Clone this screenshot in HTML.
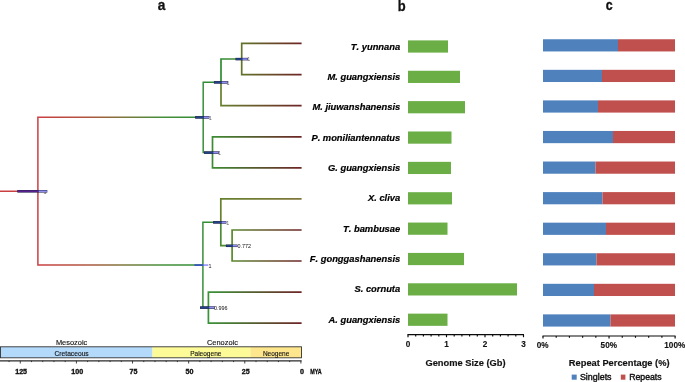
<!DOCTYPE html>
<html><head><meta charset="utf-8"><title>figure</title>
<style>
html,body{margin:0;padding:0;background:#fff;}
body{width:685px;height:382px;overflow:hidden;font-family:"Liberation Sans",sans-serif;}
svg{display:block;will-change:transform;}
text{font-family:"Liberation Sans",sans-serif;}
.sp{font-kerning:none;font-size:9.35px;font-weight:bold;font-style:italic;fill:#000;stroke:#000;stroke-width:0.2px;}
.hd{font-size:14.5px;font-weight:bold;fill:#111;stroke:#111;stroke-width:0.3px;}
.ax{font-size:8.2px;font-weight:bold;fill:#111;stroke:#111;stroke-width:0.12px;}
.axt{font-size:9.3px;font-weight:bold;fill:#111;stroke:#111;stroke-width:0.15px;}
.era{font-size:7.2px;fill:#111;stroke:#111;stroke-width:0.12px;}
.nl{font-size:5.4px;}
.lg{font-size:8.7px;fill:#111;stroke:#111;stroke-width:0.4px;}
</style></head><body>
<svg width="685" height="382" viewBox="0 0 685 382">
<defs>
<linearGradient id="nb" x1="0" y1="0" x2="1" y2="0">
<stop offset="0" stop-color="#1f2f7f"/>
<stop offset="0.5" stop-color="#4a5fc0"/>
<stop offset="1" stop-color="#a9a9f2"/>
</linearGradient>
</defs>
<rect width="685" height="382" fill="#fff"/>

<defs>
<linearGradient id="g0" gradientUnits="userSpaceOnUse" x1="37.9" y1="0" x2="203.2" y2="0"><stop offset="0" stop-color="#cb3f43"/><stop offset="0.3" stop-color="#b0553f"/><stop offset="0.52" stop-color="#7c783a"/><stop offset="0.75" stop-color="#45903a"/><stop offset="1" stop-color="#2f8c33"/></linearGradient>
<linearGradient id="g1" gradientUnits="userSpaceOnUse" x1="37.9" y1="0" x2="202.9" y2="0"><stop offset="0" stop-color="#cb3f43"/><stop offset="0.3" stop-color="#b0553f"/><stop offset="0.52" stop-color="#7c783a"/><stop offset="0.75" stop-color="#45903a"/><stop offset="1" stop-color="#2f8c33"/></linearGradient>
<linearGradient id="g2" gradientUnits="userSpaceOnUse" x1="203.2" y1="0" x2="221" y2="0"><stop offset="0" stop-color="#2f8c33"/><stop offset="1" stop-color="#2f8c33"/></linearGradient>
<linearGradient id="g3" gradientUnits="userSpaceOnUse" x1="203.2" y1="0" x2="212.5" y2="0"><stop offset="0" stop-color="#2f8c33"/><stop offset="1" stop-color="#3a9338"/></linearGradient>
<linearGradient id="g4" gradientUnits="userSpaceOnUse" x1="221" y1="0" x2="241.7" y2="0"><stop offset="0" stop-color="#2f8c33"/><stop offset="1" stop-color="#4a8c33"/></linearGradient>
<linearGradient id="g5" gradientUnits="userSpaceOnUse" x1="221" y1="0" x2="301.6" y2="0"><stop offset="0" stop-color="#66802e"/><stop offset="1" stop-color="#6e2426"/></linearGradient>
<linearGradient id="g6" gradientUnits="userSpaceOnUse" x1="241.7" y1="0" x2="301.6" y2="0"><stop offset="0" stop-color="#62742a"/><stop offset="1" stop-color="#6e2426"/></linearGradient>
<linearGradient id="g7" gradientUnits="userSpaceOnUse" x1="241.7" y1="0" x2="301.6" y2="0"><stop offset="0" stop-color="#62742a"/><stop offset="1" stop-color="#6e2426"/></linearGradient>
<linearGradient id="g8" gradientUnits="userSpaceOnUse" x1="212.5" y1="0" x2="301.6" y2="0"><stop offset="0" stop-color="#3d8c33"/><stop offset="1" stop-color="#6e2426"/></linearGradient>
<linearGradient id="g9" gradientUnits="userSpaceOnUse" x1="212.5" y1="0" x2="301.6" y2="0"><stop offset="0" stop-color="#3d8c33"/><stop offset="1" stop-color="#6e2426"/></linearGradient>
<linearGradient id="g10" gradientUnits="userSpaceOnUse" x1="202.9" y1="0" x2="220.8" y2="0"><stop offset="0" stop-color="#2f8c33"/><stop offset="1" stop-color="#3f9236"/></linearGradient>
<linearGradient id="g11" gradientUnits="userSpaceOnUse" x1="202.9" y1="0" x2="208.4" y2="0"><stop offset="0" stop-color="#2f8c33"/><stop offset="1" stop-color="#2f8c33"/></linearGradient>
<linearGradient id="g12" gradientUnits="userSpaceOnUse" x1="220.8" y1="0" x2="301.6" y2="0"><stop offset="0" stop-color="#66802e"/><stop offset="1" stop-color="#80763a"/></linearGradient>
<linearGradient id="g13" gradientUnits="userSpaceOnUse" x1="220.8" y1="0" x2="232.1" y2="0"><stop offset="0" stop-color="#4d8a31"/><stop offset="1" stop-color="#558a2e"/></linearGradient>
<linearGradient id="g14" gradientUnits="userSpaceOnUse" x1="232.1" y1="0" x2="301.6" y2="0"><stop offset="0" stop-color="#5a872e"/><stop offset="1" stop-color="#6e2426"/></linearGradient>
<linearGradient id="g15" gradientUnits="userSpaceOnUse" x1="232.1" y1="0" x2="301.6" y2="0"><stop offset="0" stop-color="#5a872e"/><stop offset="1" stop-color="#6e2426"/></linearGradient>
<linearGradient id="g16" gradientUnits="userSpaceOnUse" x1="208.4" y1="0" x2="301.6" y2="0"><stop offset="0" stop-color="#3a9338"/><stop offset="1" stop-color="#6e2426"/></linearGradient>
<linearGradient id="g17" gradientUnits="userSpaceOnUse" x1="208.4" y1="0" x2="301.6" y2="0"><stop offset="0" stop-color="#3a9338"/><stop offset="1" stop-color="#6e2426"/></linearGradient>
</defs>
<line x1="0" y1="191.2" x2="38.75" y2="191.2" stroke="#cb3f43" stroke-width="1.5"/>
<g stroke-width="1.7" fill="none" stroke-linejoin="miter" stroke-linecap="butt">
<path d="M37.9 191.20L37.9 117.30L203.2 117.30" stroke="url(#g0)" stroke-width="1.5"/>
<path d="M37.9 191.20L37.9 265.00L202.9 265.00" stroke="url(#g1)" stroke-width="1.5"/>
<path d="M203.2 117.30L203.2 82.30L221 82.30" stroke="url(#g2)" stroke-width="1.45"/>
<path d="M203.2 117.30L203.2 152.50L212.5 152.50" stroke="url(#g3)" stroke-width="1.45"/>
<path d="M221 82.30L221 59.00L241.7 59.00" stroke="url(#g4)" stroke-width="1.7"/>
<path d="M221 82.30L221 105.70L301.6 105.70" stroke="url(#g5)" stroke-width="1.7"/>
<path d="M241.7 59.00L241.7 43.40L301.6 43.40" stroke="url(#g6)" stroke-width="1.7"/>
<path d="M241.7 59.00L241.7 74.70L301.6 74.70" stroke="url(#g7)" stroke-width="1.7"/>
<path d="M212.5 152.50L212.5 136.80L301.6 136.80" stroke="url(#g8)" stroke-width="1.7"/>
<path d="M212.5 152.50L212.5 167.80L301.6 167.80" stroke="url(#g9)" stroke-width="1.7"/>
<path d="M202.9 265.00L202.9 222.30L220.8 222.30" stroke="url(#g10)" stroke-width="1.45"/>
<path d="M202.9 265.00L202.9 307.50L208.4 307.50" stroke="url(#g11)" stroke-width="1.45"/>
<path d="M220.8 222.30L220.8 198.80L301.6 198.80" stroke="url(#g12)" stroke-width="1.7"/>
<path d="M220.8 222.30L220.8 245.70L232.1 245.70" stroke="url(#g13)" stroke-width="1.7"/>
<path d="M232.1 245.70L232.1 230.00L301.6 230.00" stroke="url(#g14)" stroke-width="1.7"/>
<path d="M232.1 245.70L232.1 261.00L301.6 261.00" stroke="url(#g15)" stroke-width="1.7"/>
<path d="M208.4 307.50L208.4 292.20L301.6 292.20" stroke="url(#g16)" stroke-width="1.7"/>
<path d="M208.4 307.50L208.4 323.10L301.6 323.10" stroke="url(#g17)" stroke-width="1.7"/>
</g>
<text class="nl" x="43.4" y="193.6" fill="#666">1</text>
<rect x="17.3" y="190.05" width="30.0" height="2.5" fill="#1b1b45"/>
<rect x="17.7" y="190.50" width="21.0" height="1.6" fill="#5a2090"/>
<rect x="38.7" y="190.50" width="8.2" height="1.6" fill="#9090f0"/>
<text class="nl" x="208.7" y="119.7" fill="#666">1</text>
<rect x="195.1" y="116.15" width="14.3" height="2.5" fill="#1b1b45"/>
<rect x="195.5" y="116.60" width="8.5" height="1.6" fill="#23448a"/>
<rect x="204.0" y="116.60" width="5.0" height="1.6" fill="#9090f0"/>
<text class="nl" x="226.5" y="84.7" fill="#666">1</text>
<rect x="213.9" y="81.15" width="13.9" height="2.5" fill="#1b1b45"/>
<rect x="214.3" y="81.60" width="7.5" height="1.6" fill="#23448a"/>
<rect x="221.8" y="81.60" width="5.6" height="1.6" fill="#9090f0"/>
<text class="nl" x="247.2" y="61.4" fill="#666">1</text>
<rect x="235.5" y="57.85" width="12.4" height="2.5" fill="#1b1b45"/>
<rect x="235.9" y="58.30" width="6.6" height="1.6" fill="#23448a"/>
<rect x="242.5" y="58.30" width="5.0" height="1.6" fill="#9090f0"/>
<text class="nl" x="218.0" y="154.9" fill="#666">1</text>
<rect x="204" y="151.35" width="14.9" height="2.5" fill="#1b1b45"/>
<rect x="204.4" y="151.80" width="8.9" height="1.6" fill="#23448a"/>
<rect x="213.3" y="151.80" width="5.2" height="1.6" fill="#9090f0"/>
<text class="nl" x="208.6" y="267.5" fill="#111">1</text>
<rect x="194.4" y="264.20" width="9.3" height="1.8" fill="#3858c0"/>
<rect x="203.7" y="264.20" width="4.6" height="1.8" fill="#a0a0f8"/>
<text class="nl" x="226.3" y="224.7" fill="#666">1</text>
<rect x="213.1" y="221.15" width="13.3" height="2.5" fill="#1b1b45"/>
<rect x="213.5" y="221.60" width="8.1" height="1.6" fill="#23448a"/>
<rect x="221.6" y="221.60" width="4.4" height="1.6" fill="#9090f0"/>
<text class="nl" x="237.6" y="248.1" fill="#111">0.772</text>
<rect x="225.9" y="244.55" width="11.6" height="2.5" fill="#1b1b45"/>
<rect x="226.3" y="245.00" width="6.6" height="1.6" fill="#23448a"/>
<rect x="232.9" y="245.00" width="4.2" height="1.6" fill="#9090f0"/>
<text class="nl" x="213.9" y="309.9" fill="#111">0.996</text>
<rect x="200" y="306.35" width="14.7" height="2.5" fill="#1b1b45"/>
<rect x="200.4" y="306.80" width="8.8" height="1.6" fill="#23448a"/>
<rect x="209.2" y="306.80" width="5.1" height="1.6" fill="#9090f0"/>
<text class="hd" transform="translate(161.6 9.6) scale(0.943 1)" x="0" y="0" text-anchor="middle">a</text>
<text class="hd" transform="translate(401.6 10.6) scale(0.892 1)" x="0" y="0" text-anchor="middle">b</text>
<text class="hd" transform="translate(609.3 9.7) scale(0.856 1)" x="0" y="0" text-anchor="middle">c</text>
<text class="sp" x="400.2" y="49.60" text-anchor="end">T. yunnana</text>
<text class="sp" x="400.2" y="79.94" text-anchor="end">M. guangxiensis</text>
<text class="sp" x="400.2" y="110.28" text-anchor="end">M. jiuwanshanensis</text>
<text class="sp" x="400.2" y="140.62" text-anchor="end">P. moniliantennatus</text>
<text class="sp" x="400.2" y="170.96" text-anchor="end">G. guangxiensis</text>
<text class="sp" x="400.2" y="201.30" text-anchor="end">X. cliva</text>
<text class="sp" x="400.2" y="231.64" text-anchor="end">T. bambusae</text>
<text class="sp" x="400.2" y="261.98" text-anchor="end">F. gonggashanensis</text>
<text class="sp" x="400.2" y="292.32" text-anchor="end">S. cornuta</text>
<text class="sp" x="400.2" y="322.66" text-anchor="end">A. guangxiensis</text>
<rect x="408" y="40.40" width="40" height="12.2" fill="#6aae45"/>
<rect x="408" y="70.76" width="52" height="12.2" fill="#6aae45"/>
<rect x="408" y="101.12" width="57" height="12.2" fill="#6aae45"/>
<rect x="408" y="131.48" width="43.5" height="12.2" fill="#6aae45"/>
<rect x="408" y="161.84" width="43" height="12.2" fill="#6aae45"/>
<rect x="408" y="192.20" width="44" height="12.2" fill="#6aae45"/>
<rect x="408" y="222.56" width="39.5" height="12.2" fill="#6aae45"/>
<rect x="408" y="252.92" width="56" height="12.2" fill="#6aae45"/>
<rect x="408" y="283.28" width="109" height="12.2" fill="#6aae45"/>
<rect x="408" y="313.64" width="39.5" height="12.2" fill="#6aae45"/>
<rect x="543" y="39.25" width="75" height="12.2" fill="#4f81bd"/>
<rect x="618" y="39.25" width="57" height="12.2" fill="#c0504d"/>
<rect x="543" y="69.82" width="59" height="12.2" fill="#4f81bd"/>
<rect x="602" y="69.82" width="73" height="12.2" fill="#c0504d"/>
<rect x="543" y="100.39" width="55" height="12.2" fill="#4f81bd"/>
<rect x="598" y="100.39" width="77" height="12.2" fill="#c0504d"/>
<rect x="543" y="130.96" width="70" height="12.2" fill="#4f81bd"/>
<rect x="613" y="130.96" width="62" height="12.2" fill="#c0504d"/>
<rect x="543" y="161.53" width="52.5" height="12.2" fill="#4f81bd"/>
<rect x="595.5" y="161.53" width="79.5" height="12.2" fill="#c0504d"/>
<rect x="543" y="192.10" width="59.5" height="12.2" fill="#4f81bd"/>
<rect x="602.5" y="192.10" width="72.5" height="12.2" fill="#c0504d"/>
<rect x="543" y="222.67" width="63" height="12.2" fill="#4f81bd"/>
<rect x="606" y="222.67" width="69" height="12.2" fill="#c0504d"/>
<rect x="543" y="253.24" width="53.5" height="12.2" fill="#4f81bd"/>
<rect x="596.5" y="253.24" width="78.5" height="12.2" fill="#c0504d"/>
<rect x="543" y="283.81" width="51" height="12.2" fill="#4f81bd"/>
<rect x="594" y="283.81" width="81" height="12.2" fill="#c0504d"/>
<rect x="543" y="314.38" width="67.5" height="12.2" fill="#4f81bd"/>
<rect x="610.5" y="314.38" width="64.5" height="12.2" fill="#c0504d"/>
<g stroke="#0a0a0a" stroke-width="1.15">
<line x1="407.5" y1="334.6" x2="524" y2="334.6"/>
<line x1="408.00" y1="334.6" x2="408.00" y2="337.20000000000005"/>
<line x1="415.70" y1="334.6" x2="415.70" y2="336.5"/>
<line x1="423.40" y1="334.6" x2="423.40" y2="336.5"/>
<line x1="431.10" y1="334.6" x2="431.10" y2="336.5"/>
<line x1="438.80" y1="334.6" x2="438.80" y2="336.5"/>
<line x1="446.50" y1="334.6" x2="446.50" y2="337.20000000000005"/>
<line x1="454.20" y1="334.6" x2="454.20" y2="336.5"/>
<line x1="461.90" y1="334.6" x2="461.90" y2="336.5"/>
<line x1="469.60" y1="334.6" x2="469.60" y2="336.5"/>
<line x1="477.30" y1="334.6" x2="477.30" y2="336.5"/>
<line x1="485.00" y1="334.6" x2="485.00" y2="337.20000000000005"/>
<line x1="492.70" y1="334.6" x2="492.70" y2="336.5"/>
<line x1="500.40" y1="334.6" x2="500.40" y2="336.5"/>
<line x1="508.10" y1="334.6" x2="508.10" y2="336.5"/>
<line x1="515.80" y1="334.6" x2="515.80" y2="336.5"/>
<line x1="523.50" y1="334.6" x2="523.50" y2="337.20000000000005"/>
<line x1="542.5" y1="336.0" x2="675.6" y2="336.0"/>
<line x1="543.00" y1="336.0" x2="543.00" y2="338.5"/>
<line x1="556.21" y1="336.0" x2="556.21" y2="337.8"/>
<line x1="569.42" y1="336.0" x2="569.42" y2="337.8"/>
<line x1="582.63" y1="336.0" x2="582.63" y2="337.8"/>
<line x1="595.84" y1="336.0" x2="595.84" y2="337.8"/>
<line x1="609.05" y1="336.0" x2="609.05" y2="338.5"/>
<line x1="622.26" y1="336.0" x2="622.26" y2="337.8"/>
<line x1="635.47" y1="336.0" x2="635.47" y2="337.8"/>
<line x1="648.68" y1="336.0" x2="648.68" y2="337.8"/>
<line x1="661.89" y1="336.0" x2="661.89" y2="337.8"/>
<line x1="675.10" y1="336.0" x2="675.10" y2="338.5"/>
</g>
<text class="ax" x="408.0" y="346.9" text-anchor="middle">0</text>
<text class="ax" x="446.5" y="346.9" text-anchor="middle">1</text>
<text class="ax" x="485.0" y="346.9" text-anchor="middle">2</text>
<text class="ax" x="523.5" y="346.9" text-anchor="middle">3</text>
<text class="ax" x="542.7" y="347.9" text-anchor="middle">0%</text>
<text class="ax" x="608.8" y="347.9" text-anchor="middle">50%</text>
<text class="ax" x="674.8" y="347.9" text-anchor="middle">100%</text>
<text class="axt" x="465.5" y="366.0" text-anchor="middle">Genome Size (Gb)</text>
<text class="axt" x="619.2" y="365.9" text-anchor="middle">Repeat Percentage (%)</text>
<rect x="571.7" y="374.6" width="5.0" height="5.1" fill="#4f81bd"/>
<text class="lg" x="579.9" y="380.3" textLength="31.7" lengthAdjust="spacingAndGlyphs">Singlets</text>
<rect x="620.8" y="374.6" width="4.6" height="5.1" fill="#c0504d"/>
<text class="lg" x="629.2" y="380.3" textLength="32.4" lengthAdjust="spacingAndGlyphs">Repeats</text>
<rect x="0" y="346.8" width="152.5" height="11" fill="#b3d9fb"/>
<rect x="152.5" y="346.8" width="97.9" height="11" fill="#fdfb98"/>
<rect x="250.4" y="346.8" width="51.1" height="11" fill="#fde68c"/>
<rect x="0.5" y="346.8" width="301" height="11" fill="none" stroke="#333" stroke-width="0.9"/>
<text class="era" style="font-size:6.9px" x="55.9" y="344.6" textLength="31.4" lengthAdjust="spacingAndGlyphs">Mesozoic</text>
<text class="era" style="font-size:6.9px" x="207.0" y="344.6" textLength="30.9" lengthAdjust="spacingAndGlyphs">Cenozoic</text>
<text class="era" style="font-size:6.9px" x="54.5" y="355.9" textLength="34.2" lengthAdjust="spacingAndGlyphs">Cretaceous</text>
<text class="era" style="font-size:6.9px" x="190.2" y="355.9" textLength="31.2" lengthAdjust="spacingAndGlyphs">Paleogene</text>
<text class="era" style="font-size:6.9px" x="262.9" y="355.9" textLength="26.4" lengthAdjust="spacingAndGlyphs">Neogene</text>
<g stroke="#2a2a2a" stroke-width="1.25">
<line x1="0" y1="360.8" x2="301.6" y2="360.8"/>
<line x1="300.90" y1="360.8" x2="300.90" y2="363.5" stroke-width="0.9"/>
<line x1="289.67" y1="360.8" x2="289.67" y2="362.1" stroke-width="0.9"/>
<line x1="278.45" y1="360.8" x2="278.45" y2="362.1" stroke-width="0.9"/>
<line x1="267.22" y1="360.8" x2="267.22" y2="362.1" stroke-width="0.9"/>
<line x1="256.00" y1="360.8" x2="256.00" y2="362.1" stroke-width="0.9"/>
<line x1="244.78" y1="360.8" x2="244.78" y2="363.5" stroke-width="0.9"/>
<line x1="233.55" y1="360.8" x2="233.55" y2="362.1" stroke-width="0.9"/>
<line x1="222.33" y1="360.8" x2="222.33" y2="362.1" stroke-width="0.9"/>
<line x1="211.10" y1="360.8" x2="211.10" y2="362.1" stroke-width="0.9"/>
<line x1="199.88" y1="360.8" x2="199.88" y2="362.1" stroke-width="0.9"/>
<line x1="188.65" y1="360.8" x2="188.65" y2="363.5" stroke-width="0.9"/>
<line x1="177.42" y1="360.8" x2="177.42" y2="362.1" stroke-width="0.9"/>
<line x1="166.20" y1="360.8" x2="166.20" y2="362.1" stroke-width="0.9"/>
<line x1="154.97" y1="360.8" x2="154.97" y2="362.1" stroke-width="0.9"/>
<line x1="143.75" y1="360.8" x2="143.75" y2="362.1" stroke-width="0.9"/>
<line x1="132.53" y1="360.8" x2="132.53" y2="363.5" stroke-width="0.9"/>
<line x1="121.30" y1="360.8" x2="121.30" y2="362.1" stroke-width="0.9"/>
<line x1="110.07" y1="360.8" x2="110.07" y2="362.1" stroke-width="0.9"/>
<line x1="98.85" y1="360.8" x2="98.85" y2="362.1" stroke-width="0.9"/>
<line x1="87.62" y1="360.8" x2="87.62" y2="362.1" stroke-width="0.9"/>
<line x1="76.40" y1="360.8" x2="76.40" y2="363.5" stroke-width="0.9"/>
<line x1="65.17" y1="360.8" x2="65.17" y2="362.1" stroke-width="0.9"/>
<line x1="53.95" y1="360.8" x2="53.95" y2="362.1" stroke-width="0.9"/>
<line x1="42.72" y1="360.8" x2="42.72" y2="362.1" stroke-width="0.9"/>
<line x1="31.50" y1="360.8" x2="31.50" y2="362.1" stroke-width="0.9"/>
<line x1="20.27" y1="360.8" x2="20.27" y2="363.5" stroke-width="0.9"/>
<line x1="9.05" y1="360.8" x2="9.05" y2="362.1" stroke-width="0.9"/>
</g>
<text class="ax" style="font-size:6.4px;stroke:#111;stroke-width:0.3px" x="299.9" y="373.7" textLength="4.0" lengthAdjust="spacingAndGlyphs">0</text>
<text class="ax" style="font-size:6.4px;stroke:#111;stroke-width:0.3px" x="241.7" y="373.7" textLength="7.9" lengthAdjust="spacingAndGlyphs">25</text>
<text class="ax" style="font-size:6.4px;stroke:#111;stroke-width:0.3px" x="185.6" y="373.7" textLength="7.9" lengthAdjust="spacingAndGlyphs">50</text>
<text class="ax" style="font-size:6.4px;stroke:#111;stroke-width:0.3px" x="129.5" y="373.7" textLength="7.9" lengthAdjust="spacingAndGlyphs">75</text>
<text class="ax" style="font-size:6.4px;stroke:#111;stroke-width:0.3px" x="71.3" y="373.7" textLength="11.9" lengthAdjust="spacingAndGlyphs">100</text>
<text class="ax" style="font-size:6.4px;stroke:#111;stroke-width:0.3px" x="15.2" y="373.7" textLength="11.9" lengthAdjust="spacingAndGlyphs">125</text>
<text class="ax" style="font-size:6.6px;stroke:#111;stroke-width:0.3px" transform="translate(310.2 373.5) scale(0.82 1)" x="0" y="0">MYA</text>
</svg></body></html>
